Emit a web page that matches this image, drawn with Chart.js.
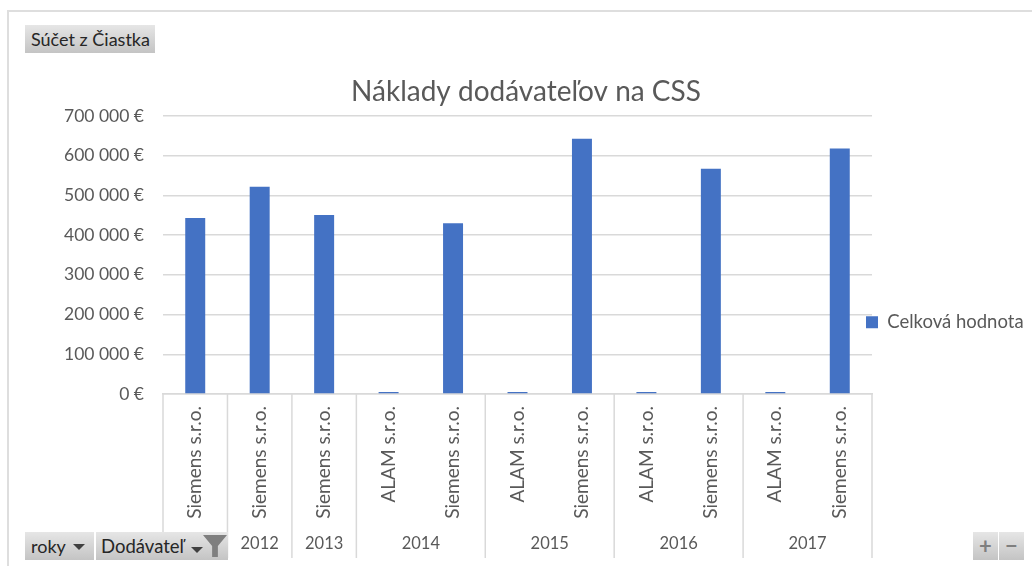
<!DOCTYPE html>
<html>
<head>
<meta charset="utf-8">
<script src="https://cdn.jsdelivr.net/npm/chart.js@4"></script>
<style>
  body { margin: 0; background: #fff; font-family: Lato, sans-serif; }
  #wrap { position: relative; width: 1032px; height: 566px; overflow: hidden; }
  #frame { position: absolute; left: 7px; top: 10px; right: -5px; bottom: -5px; border: 2px solid #dedede; }
  canvas { position: absolute; left: 0; top: 0; }
  .btn {
    position: absolute; height: 28px; line-height: 28px; padding-left: 6px; box-sizing: border-box;
    background: linear-gradient(#e6e6e6, #c4c4c4); color: #262626; font-size: 18px; white-space: nowrap;
  }
  .arrow { position: absolute; width: 0; height: 0; border-left: 6px solid transparent; border-right: 6px solid transparent; border-top: 6px solid #404040; }
  .funnel { position: absolute; width: 24px; height: 22px; background: #7f7f7f; clip-path: polygon(0 0, 100% 0, 62% 50%, 62% 100%, 38% 100%, 38% 50%); }
  .sign { text-align: center; padding: 0; color: #7f7f7f; font-size: 22px; font-weight: bold; }
</style>
</head>
<body>
<div id="wrap">
  <div id="frame"></div>
  <canvas id="chart" width="1032" height="566"></canvas>
  <div class="btn" style="left:25px;top:25px;width:130px">Súčet z Čiastka</div>
  <div class="btn" style="left:25px;top:532px;width:69px">roky<span class="arrow" style="left:48px;top:12px"></span></div>
  <div class="btn" style="left:96px;top:532px;width:132px;padding-left:5px;font-size:18.5px">Dodávateľ<span class="arrow" style="left:95px;top:15px"></span><span class="funnel" style="left:107px;top:3px"></span></div>
  <div class="btn sign" style="left:973px;top:532px;width:25px">+</div>
  <div class="btn sign" style="left:999px;top:532px;width:25px">−</div>
</div>
<script>
const suppliers = ["Siemens s.r.o.", "Siemens s.r.o.", "Siemens s.r.o.", "ALAM s.r.o.", "Siemens s.r.o.", "ALAM s.r.o.", "Siemens s.r.o.", "ALAM s.r.o.", "Siemens s.r.o.", "ALAM s.r.o.", "Siemens s.r.o."];
const years = ["", "2012", "2013", "2014", "2014", "2015", "2015", "2016", "2016", "2017", "2017"];
const values = [443000, 522000, 451000, 5000, 430000, 5000, 643000, 5000, 567000, 5000, 618000];
const yTickLabels = ["0 €", "100 000 €", "200 000 €", "300 000 €", "400 000 €", "500 000 €", "600 000 €", "700 000 €"];
const seriesName = "Celková hodnota";
const chartTitle = "Náklady dodávateľov na CSS";

const gray = "#595959";
const lineGray = "#d9d9d9";

// title and legend sit outside the plot area in the original
const placeBoxes = {
  id: "placeBoxes",
  afterLayout(chart) {
    chart.titleBlock.left = 20;
    chart.titleBlock.right = 1032;
    const legend = chart.legend;
    legend.left = 856;
    legend.right = 1032;
    legend.top = 303;
    legend.bottom = 340;
  },
};

// second level of the category axis: year groups with their dividers
const yearAxis = {
  id: "yearAxis",
  afterDraw(chart) {
    const x = chart.scales.x;
    const ctx = chart.ctx;
    ctx.save();
    ctx.strokeStyle = lineGray;
    ctx.lineWidth = 1.5;
    ctx.fillStyle = gray;
    ctx.font = "16.5px Lato";
    ctx.textAlign = "center";
    ctx.textBaseline = "middle";
    let start = 0;
    for (let i = 0; i <= years.length; i++) {
      if (i > 0 && (i === years.length || years[i] !== years[i - 1])) {
        const left = x.getPixelForValue(start - 0.5);
        const right = x.getPixelForValue(i - 0.5);
        ctx.fillText(years[start], (left + right) / 2, 544);
        start = i;
      }
      if (i === 0 || i === years.length || years[i] !== years[i - 1]) {
        const px = x.getPixelForValue(i - 0.5);
        ctx.beginPath();
        ctx.moveTo(px, x.top);
        ctx.lineTo(px, 558);
        ctx.stroke();
      }
    }
    ctx.restore();
  },
};

new Chart(document.getElementById("chart"), {
  type: "bar",
  data: {
    labels: suppliers,
    datasets: [
      {
        label: seriesName,
        data: values,
        backgroundColor: "#4472C4",
        barPercentage: 0.31,
        categoryPercentage: 1,
      },
    ],
  },
  options: {
    responsive: false,
    animation: false,
    layout: { padding: { top: 78, right: 160, bottom: 0, left: 0 } },
    plugins: {
      tooltip: { enabled: false },
      title: {
        display: true,
        text: chartTitle,
        color: gray,
        font: { family: "Lato", size: 28, weight: "normal", lineHeight: 1 },
        padding: { top: 0, bottom: 10 },
      },
      legend: {
        position: "chartArea",
        align: "start",
        labels: {
          boxWidth: 12,
          boxHeight: 12,
          color: gray,
          font: { family: "Lato", size: 18.5 },
        },
      },
    },
    scales: {
      x: {
        grid: { display: false },
        border: { color: lineGray, width: 1.5 },
        afterFit: (scale) => { scale.height = 172; },
        ticks: {
          color: gray,
          font: { family: "Lato", size: 19 },
          autoSkip: false,
          minRotation: 90,
          maxRotation: 90,
          padding: 4,
        },
      },
      y: {
        min: 0,
        max: 700000,
        afterFit: (scale) => { scale.width = 163; },
        grid: { color: lineGray, lineWidth: 1.5, drawTicks: false },
        border: { display: false },
        ticks: {
          stepSize: 100000,
          padding: 19,
          color: gray,
          font: { family: "Lato", size: 17.5 },
          callback: (value, index) => yTickLabels[index],
        },
      },
    },
  },
  plugins: [placeBoxes, yearAxis],
});
</script>
</body>
</html>
